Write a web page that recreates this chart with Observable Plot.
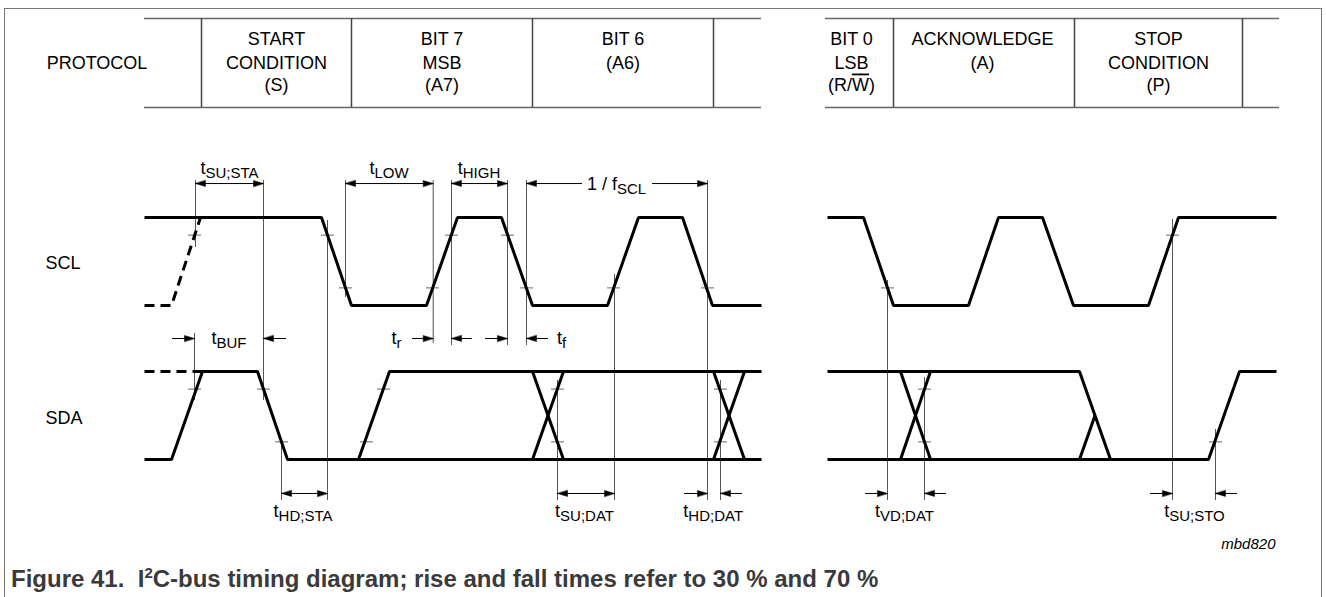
<!DOCTYPE html>
<html><head><meta charset="utf-8">
<script src="https://cdn.jsdelivr.net/npm/d3@7"></script>
<script src="https://cdn.jsdelivr.net/npm/@observablehq/plot@0.6"></script>
<style>
html,body{margin:0;padding:0;background:#fff;}
body{width:1326px;height:597px;position:relative;overflow:hidden;font-family:"Liberation Sans",Arial,Helvetica,sans-serif;}
#frame{position:absolute;left:4px;top:8px;width:1316px;height:640px;border:1px solid #777;border-bottom:none;}
#chart{position:absolute;left:0;top:0;}
#caption{position:absolute;left:11px;top:567px;font-size:24px;font-weight:bold;color:#3a3a3a;line-height:24px;white-space:nowrap;}
#caption sup{font-size:15px;vertical-align:9px;line-height:0;}
</style></head><body>
<div id="frame"></div>
<div id="chart"></div>
<div id="caption">Figure 41.&nbsp;&nbsp;I<sup>2</sup>C-bus timing diagram; rise and fall times refer to 30 % and 70 %</div>
<script>
// ================= DATA =================
// time positions (diagram time units) and logic levels (0 = low, 1 = high)
const sclMainT = [144, 321, 351, 426, 457, 501, 532, 607, 638, 682, 712, 761];
const sclMainL = [1, 1, 0, 0, 1, 1, 0, 0, 1, 1, 0, 0];
const sclPrevT = [144, 171, 200];            // dashed (previous state)
const sclPrevL = [0, 0, 1];
const sclStopT = [827, 863, 893, 968, 998, 1042, 1073, 1148, 1178, 1276];
const sclStopL = [1, 1, 0, 0, 1, 1, 0, 0, 1, 1];

const sdaPrevT = [144, 202];                 // dashed (previous state)
const sdaPrevL = [1, 1];
const sdaStartT = [144, 171, 202, 257, 287, 761];
const sdaStartL = [0, 0, 1, 1, 0, 0];
const sdaBit7T = [358, 389, 761];
const sdaBit7L = [0, 1, 1];
const sdaX1FallT = [532, 563], sdaX1FallL = [1, 0];
const sdaX1RiseT = [532, 563], sdaX1RiseL = [0, 1];
const sdaX2FallT = [713, 744], sdaX2FallL = [1, 0];
const sdaX2RiseT = [713, 744], sdaX2RiseL = [0, 1];
const sdaAckHighT = [827, 1079, 1110], sdaAckHighL = [1, 1, 0];
const sdaStopT = [827, 1208, 1239, 1276], sdaStopL = [0, 0, 1, 1];
const sdaX3FallT = [900, 930], sdaX3FallL = [1, 0];
const sdaX3RiseT = [900, 930], sdaX3RiseL = [0, 1];
const sdaHalfT = [1079, 1094.5], sdaHalfL = [0, 0.5];

// 30 % / 70 % threshold crossing marks (time, fraction of swing)
const sclTickT = [194, 327, 345, 432, 451, 507, 526, 613, 707, 887, 1172];
const sclTickL = [0.8, 0.8, 0.2, 0.2, 0.8, 0.8, 0.2, 0.2, 0.2, 0.2, 0.8];
const sdaTickT = [194, 263, 281, 366, 383, 557, 557, 720, 720, 924, 924, 1215];
const sdaTickL = [0.8, 0.8, 0.2, 0.2, 0.8, 0.8, 0.2, 0.8, 0.2, 0.8, 0.2, 0.2];

// timing reference lines: time, from level, to level
const refT    = [195, 263, 327, 345, 432.7, 451, 507, 526, 614, 707, 887, 1172, 194, 281, 557, 720, 924, 1215];
const refFrom = [3.17, 3.17, 2.716, 3.17, 3.17, 3.17, 3.17, 3.17, 2.102, 3.17, 2.034, 2.727, 1.432, 0.239, 0.898, 0.898, 0.932, 0.341];
const refTo   = [2.409, 0.67, -0.466, 1.841, 1.318, 1.295, 1.295, 1.295, -0.466, -0.466, -0.466, -0.466, 0.67, -0.466, -0.466, -0.466, -0.466, -0.466];

// dimension arrows (double headed): from, to, row
const dimFrom = [195, 345, 451, 281, 557];
const dimTo   = [263, 432.7, 507, 327, 614];
const dimRow  = ["top", "top", "top", "bot", "bot"];
// pointer arrows (single head at "to"): from, to, row
const ptrFrom = [582, 652, 172, 286, 412, 471.7, 485, 548, 684, 742, 865, 946, 1150, 1237];
const ptrTo   = [526, 707, 194, 263, 432.7, 451, 507, 526, 707, 720, 887, 924, 1172, 1215];
const ptrRow  = ["top", "top", "mid", "mid", "mid", "mid", "mid", "mid", "bot", "bot", "bot", "bot", "bot", "bot"];

// timing labels ("_" starts the subscript)
const lblText = ["t_SU;STA", "t_LOW", "t_HIGH", "1 / f_SCL", "t_BUF", "t_r", "t_f",
                 "t_HD;STA", "t_SU;DAT", "t_HD;DAT", "t_VD;DAT", "t_SU;STO"];
const lblT    = [229, 388.5, 478.5, 616, 228.5, 396, 561, 302.5, 584, 712.7, 904, 1194];
const lblRow  = ["topLbl", "topLbl", "topLbl", "fscl", "midLbl", "midLbl", "midLbl",
                 "botLbl", "botLbl", "botLbl", "botLbl", "botLbl"];

// protocol header
const fieldEdges = [201, 351, 532, 713, 893, 1074, 1242];
const tableFrom = [144, 825];
const tableTo = [761, 1279];
const headerT = [96.5, 276, 441.5, 622.5, 851, 982, 1158];
const headerLine1 = ["", "START", "BIT 7", "BIT 6", "BIT 0", "ACKNOWLEDGE", "STOP"];
const headerLine2 = ["PROTOCOL", "CONDITION", "MSB", "(A6)", "LSB", "(A)", "CONDITION"];
const headerLine3 = ["", "(S)", "(A7)", "", "(R/W\u0305)", "", "(P)"];

const signalNames = ["SCL", "SDA"];
const figureId = "mbd820";

// ================= LAYOUT (vertical levels) =================
const laneBase = {SCL: 1.75, SDA: 0};
const rowY = {top: 3.136, mid: 1.375, bot: -0.386, topLbl: 3.25, fscl: 3.057, midLbl: 1.318, botLbl: -0.659};
const tableTop = 5.011, tableBottom = 4.0;
const headerRows = [4.705, 4.443, 4.193];
const signalLabelY = {SCL: 2.17, SDA: 0.409};

// ================= BUILD =================
const pth = (id, lane, T, L, dashed = false) => T.map((t, i) => ({id, t, y: laneBase[lane] + L[i], dashed}));
const waves = [
  ...pth("sclMain", "SCL", sclMainT, sclMainL),
  ...pth("sclPrev", "SCL", sclPrevT, sclPrevL, true),
  ...pth("sclStop", "SCL", sclStopT, sclStopL),
  ...pth("sdaPrev", "SDA", sdaPrevT, sdaPrevL, true),
  ...pth("sdaStart", "SDA", sdaStartT, sdaStartL),
  ...pth("sdaBit7", "SDA", sdaBit7T, sdaBit7L),
  ...pth("x1f", "SDA", sdaX1FallT, sdaX1FallL),
  ...pth("x1r", "SDA", sdaX1RiseT, sdaX1RiseL),
  ...pth("x2f", "SDA", sdaX2FallT, sdaX2FallL),
  ...pth("x2r", "SDA", sdaX2RiseT, sdaX2RiseL),
  ...pth("ackHigh", "SDA", sdaAckHighT, sdaAckHighL),
  ...pth("stop", "SDA", sdaStopT, sdaStopL),
  ...pth("x3f", "SDA", sdaX3FallT, sdaX3FallL),
  ...pth("x3r", "SDA", sdaX3RiseT, sdaX3RiseL),
  ...pth("half", "SDA", sdaHalfT, sdaHalfL)
];
const ticks = [
  ...sclTickT.map((t, i) => ({t, y: laneBase.SCL + sclTickL[i]})),
  ...sdaTickT.map((t, i) => ({t, y: laneBase.SDA + sdaTickL[i]}))
];
const refs = refT.map((t, i) => ({t, y1: refFrom[i], y2: refTo[i]}));
const shafts = [
  ...dimFrom.map((a, i) => ({x1: a, x2: dimTo[i], y: rowY[dimRow[i]]})),
  ...ptrFrom.map((a, i) => ({x1: a, x2: ptrTo[i], y: rowY[ptrRow[i]]}))
];
const heads = [
  ...dimFrom.map((a, i) => ({x: a, y: rowY[dimRow[i]], dir: -1})),
  ...dimTo.map((b, i) => ({x: b, y: rowY[dimRow[i]], dir: 1})),
  ...ptrTo.map((b, i) => ({x: b, y: rowY[ptrRow[i]], dir: Math.sign(b - ptrFrom[i])}))
];
const labels = lblText.map((s, i) => ({s, t: lblT[i], y: rowY[lblRow[i]]}));
const hdr = headerT.map((t, i) => ({t, l1: headerLine1[i], l2: headerLine2[i], l3: headerLine3[i]}));
const tableRows = [tableTop, tableBottom].flatMap(y => tableFrom.map((a, i) => ({x1: a, x2: tableTo[i], y})));

const headShape = {draw(ctx, l, r) { ctx.moveTo(0, 0); ctx.lineTo(-r, l); ctx.lineTo(r, l); ctx.closePath(); }};
const lineShape = {draw(ctx, l) { ctx.moveTo(0, 0); ctx.lineTo(0, -l); }};

const plot = Plot.plot({
  width: 1326, height: 560, margin: 0,
  x: {domain: [0, 1326], axis: null},
  y: {domain: [-1.1477, 5.2159], axis: null},
  style: {fontFamily: "'Liberation Sans', Arial, Helvetica, sans-serif", background: "transparent", color: "black"},
  marks: [
    // header table
    Plot.ruleY(tableRows, {y: "y", x1: "x1", x2: "x2", stroke: "#666", strokeWidth: 1.5}),
    Plot.ruleX(fieldEdges, {x: d => d, y1: tableTop, y2: tableBottom, stroke: "#444", strokeWidth: 1.5}),
    Plot.text(hdr, {x: "t", y: () => headerRows[0], text: "l1", fontSize: 18, lineAnchor: "bottom", fill: "black"}),
    Plot.text(hdr, {x: "t", y: () => headerRows[1], text: "l2", fontSize: 18, lineAnchor: "bottom", fill: "black"}),
    Plot.text(hdr, {x: "t", y: () => headerRows[2], text: "l3", fontSize: 18, lineAnchor: "bottom", fill: "black"}),
    // reference lines
    Plot.ruleX(refs, {x: "t", y1: "y1", y2: "y2", stroke: "#555", strokeWidth: 1}),
    // threshold marks
    Plot.vector(ticks, {x: "t", y: "y", length: 13, rotate: 90, anchor: "middle", shape: lineShape, stroke: "#666", strokeWidth: 1, strokeLinecap: "butt"}),
    // waveforms
    Plot.line(waves.filter(d => !d.dashed), {x: "t", y: "y", z: "id", stroke: "black", strokeWidth: 3, strokeLinejoin: "miter", strokeLinecap: "butt"}),
    Plot.line(waves.filter(d => d.dashed), {x: "t", y: "y", z: "id", stroke: "black", strokeWidth: 3, strokeDasharray: "10,6", strokeLinejoin: "miter", strokeLinecap: "butt"}),
    // arrows
    Plot.ruleY(shafts, {y: "y", x1: "x1", x2: "x2", stroke: "black", strokeWidth: 1}),
    Plot.vector(heads, {x: "x", y: "y", rotate: d => d.dir > 0 ? 90 : -90, length: 10, r: 3, shape: headShape, anchor: "start", fill: "black", stroke: "black", strokeWidth: 0.5, strokeLinejoin: "miter"}),
    // labels
    Plot.text(labels, {x: "t", y: "y", text: "s", fontSize: 18, lineAnchor: "bottom", fill: "black"}),
    Plot.text(signalNames, {x: () => 45, y: d => signalLabelY[d], text: d => d, fontSize: 18, textAnchor: "start", lineAnchor: "bottom", fill: "black"}),
    Plot.text([figureId], {x: () => 1275, y: () => -1.0114, text: d => d, fontSize: 15, fontStyle: "italic", textAnchor: "end", lineAnchor: "bottom", fill: "black"})
  ]
});
document.getElementById("chart").appendChild(plot);

// rich text: subscripts ("_") and overline (combining U+0305)
const NS = "http://www.w3.org/2000/svg";
const tspan = (txt, attrs = {}) => { const t = document.createElementNS(NS, "tspan"); t.textContent = txt; for (const k in attrs) t.setAttribute(k, attrs[k]); return t; };
plot.querySelectorAll("text").forEach(el => {
  const s = el.textContent;
  if (s.includes("_")) {
    const [main, sub] = s.split("_");
    el.textContent = "";
    el.append(tspan(main), tspan(sub, {"font-size": 15, dy: 4}));
  } else if (s.includes("\u0305")) {
    const i = s.indexOf("\u0305");
    el.textContent = "";
    el.append(tspan(s.slice(0, i - 1)), tspan(s[i - 1], {"text-decoration": "overline"}), tspan(s.slice(i + 1)));
  }
});
</script></body></html>
